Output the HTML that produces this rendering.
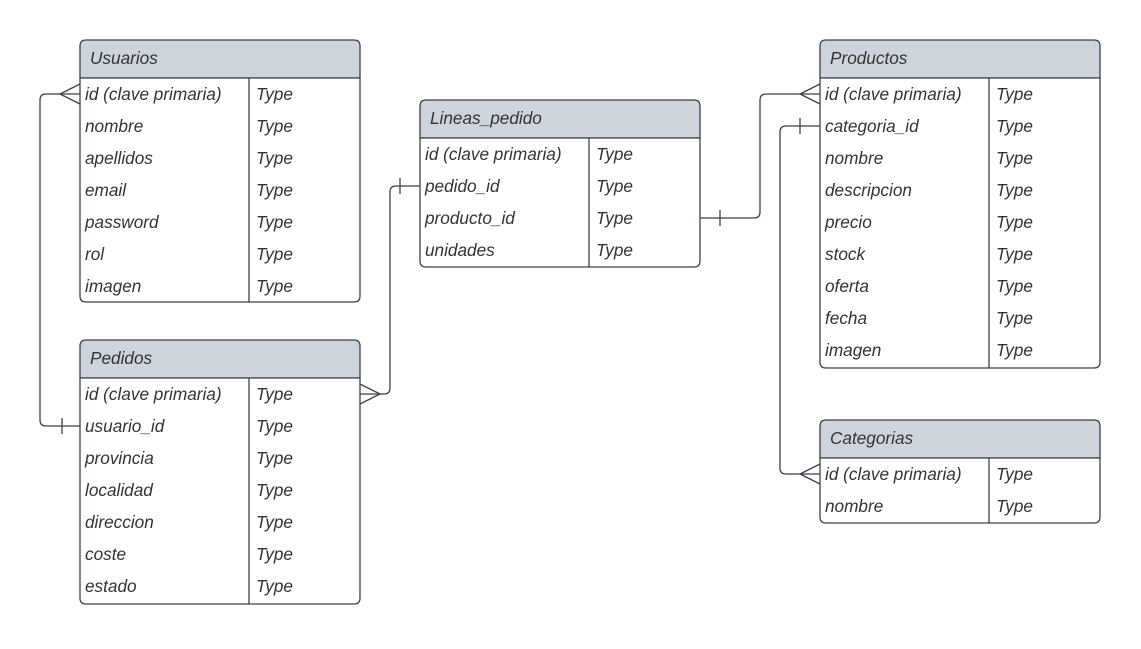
<!DOCTYPE html>
<html><head><meta charset="utf-8"><style>
html,body{margin:0;padding:0;background:#fff;}
svg text{font-family:"Liberation Sans",sans-serif;font-style:italic;font-size:17.2px;fill:#333;}
</style></head><body>
<svg width="1141" height="644" viewBox="0 0 1141 644" xmlns="http://www.w3.org/2000/svg">
<g fill="none" stroke="#3a414a" stroke-width="1.3">
<path d="M80 94 H46 Q40 94 40 100 V420 Q40 426 46 426 H80"/>
<path d="M80 84 L60 94 L80 104"/><path d="M62 418 V434"/>
<path d="M360 394 H384 Q390 394 390 388 V192 Q390 186 396 186 H420"/>
<path d="M360 384 L380 394 L360 404"/><path d="M400 178 V194"/>
<path d="M700 218 H754 Q760 218 760 212 V100 Q760 94 766 94 H820"/>
<path d="M820 84 L800 94 L820 104"/><path d="M720 210 V226"/>
<path d="M820 126 H786 Q780 126 780 132 V468 Q780 474 786 474 H820"/>
<path d="M800 118 V134"/><path d="M820 464 L800 474 L820 484"/>
</g>
<g stroke="#3a414a" stroke-width="1.3">
<path d="M80 78 V46 Q80 40 86 40 H354 Q360 40 360 46 V78 Z" fill="#ced4dc"/>
<path d="M80 78 H360 V296 Q360 302 354 302 H86 Q80 302 80 296 Z M249 78 V302" fill="#fff"/>
<path d="M80 378 V346 Q80 340 86 340 H354 Q360 340 360 346 V378 Z" fill="#ced4dc"/>
<path d="M80 378 H360 V598 Q360 604 354 604 H86 Q80 604 80 598 Z M249 378 V604" fill="#fff"/>
<path d="M420 138 V106 Q420 100 426 100 H694 Q700 100 700 106 V138 Z" fill="#ced4dc"/>
<path d="M420 138 H700 V261 Q700 267 694 267 H426 Q420 267 420 261 Z M589 138 V267" fill="#fff"/>
<path d="M820 78 V46 Q820 40 826 40 H1094 Q1100 40 1100 46 V78 Z" fill="#ced4dc"/>
<path d="M820 78 H1100 V362 Q1100 368 1094 368 H826 Q820 368 820 362 Z M989 78 V368" fill="#fff"/>
<path d="M820 458 V426 Q820 420 826 420 H1094 Q1100 420 1100 426 V458 Z" fill="#ced4dc"/>
<path d="M820 458 H1100 V517 Q1100 523 1094 523 H826 Q820 523 820 517 Z M989 458 V523" fill="#fff"/>
</g>
<g>
<text x="90" y="64">Usuarios</text>
<text x="85" y="100">id (clave primaria)</text><text x="256" y="100">Type</text>
<text x="85" y="132">nombre</text><text x="256" y="132">Type</text>
<text x="85" y="164">apellidos</text><text x="256" y="164">Type</text>
<text x="85" y="196">email</text><text x="256" y="196">Type</text>
<text x="85" y="228">password</text><text x="256" y="228">Type</text>
<text x="85" y="260">rol</text><text x="256" y="260">Type</text>
<text x="85" y="292">imagen</text><text x="256" y="292">Type</text>

<text x="90" y="364">Pedidos</text>
<text x="85" y="400">id (clave primaria)</text><text x="256" y="400">Type</text>
<text x="85" y="432">usuario_id</text><text x="256" y="432">Type</text>
<text x="85" y="464">provincia</text><text x="256" y="464">Type</text>
<text x="85" y="496">localidad</text><text x="256" y="496">Type</text>
<text x="85" y="528">direccion</text><text x="256" y="528">Type</text>
<text x="85" y="560">coste</text><text x="256" y="560">Type</text>
<text x="85" y="592">estado</text><text x="256" y="592">Type</text>

<text x="430" y="124">Lineas_pedido</text>
<text x="425" y="160">id (clave primaria)</text><text x="596" y="160">Type</text>
<text x="425" y="192">pedido_id</text><text x="596" y="192">Type</text>
<text x="425" y="224">producto_id</text><text x="596" y="224">Type</text>
<text x="425" y="256">unidades</text><text x="596" y="256">Type</text>

<text x="830" y="64">Productos</text>
<text x="825" y="100">id (clave primaria)</text><text x="996" y="100">Type</text>
<text x="825" y="132">categoria_id</text><text x="996" y="132">Type</text>
<text x="825" y="164">nombre</text><text x="996" y="164">Type</text>
<text x="825" y="196">descripcion</text><text x="996" y="196">Type</text>
<text x="825" y="228">precio</text><text x="996" y="228">Type</text>
<text x="825" y="260">stock</text><text x="996" y="260">Type</text>
<text x="825" y="292">oferta</text><text x="996" y="292">Type</text>
<text x="825" y="324">fecha</text><text x="996" y="324">Type</text>
<text x="825" y="356">imagen</text><text x="996" y="356">Type</text>

<text x="830" y="444">Categorias</text>
<text x="825" y="480">id (clave primaria)</text><text x="996" y="480">Type</text>
<text x="825" y="512">nombre</text><text x="996" y="512">Type</text>
</g>
</svg>
</body></html>
